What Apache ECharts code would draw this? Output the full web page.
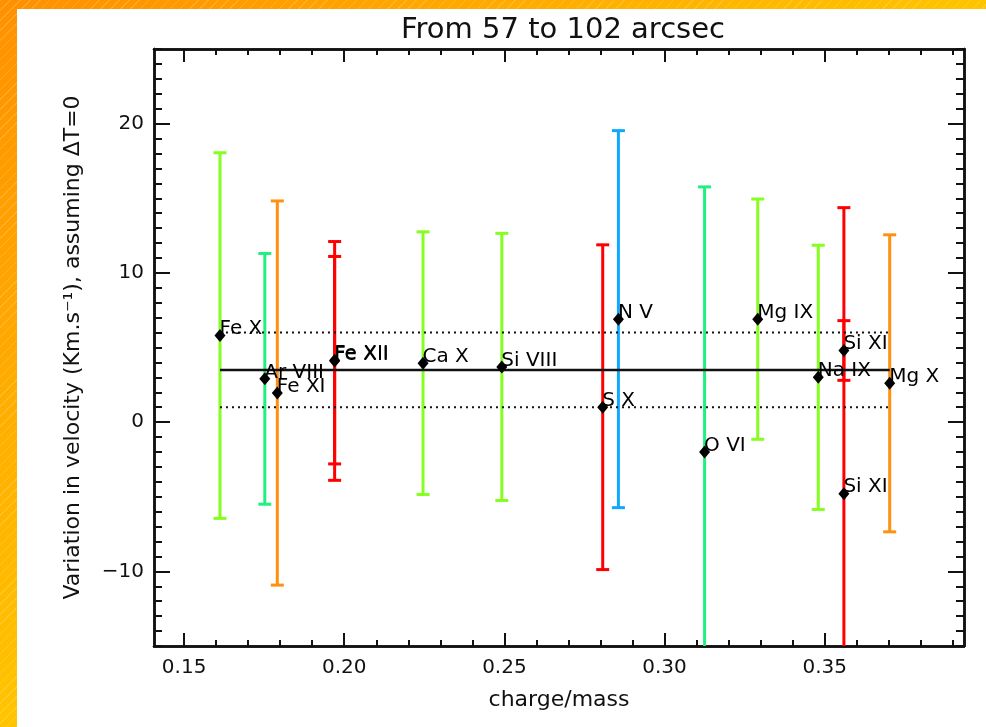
<!DOCTYPE html>
<html>
<head>
<meta charset="utf-8">
<script src="https://cdn.jsdelivr.net/npm/echarts@6/dist/echarts.min.js"></script>
<style>
    html, body {
        margin: 0;
        padding: 0;
        width: 986px;
        height: 727px;
        overflow: hidden;
    }
    body {
        background:
            repeating-linear-gradient(135deg, rgba(255,255,255,0.16) 0 1px, rgba(255,255,255,0) 1px 7px),
            linear-gradient(to bottom right, #ff9000 0%, #ffc400 50%, #ffe000 100%);
    }
    #panel {
        position: absolute;
        left: 17px;
        top: 9px;
        right: 0;
        bottom: 0;
        background: #fff;
    }
    #main {
        position: absolute;
        left: 0;
        top: 0;
        width: 986px;
        height: 727px;
    }
</style>
</head>
<body>
<div id="panel"></div>
<div id="main"></div>
<script>
// ions and their charge/mass ratio
var ionNames = ['Fe X', 'Ar VIII', 'Fe XI', 'Fe XII', 'Fe XII', 'Ca X', 'Si VIII', 'S X', 'N V', 'O VI', 'Mg IX', 'Na IX', 'Si XI', 'Si XI', 'Mg X'];
var ionX = [0.1612, 0.1752, 0.1791, 0.1970, 0.1970, 0.2246, 0.2492, 0.2807, 0.2856, 0.3125, 0.3291, 0.3480, 0.3560, 0.3560, 0.3703];
// velocity variation and its error (km/s)
var ionV = [5.8, 2.9, 1.95, 4.1, 4.15, 3.95, 3.7, 1.0, 6.9, -2.0, 6.9, 3.0, 4.8, -4.8, 2.6];
var ionErr = [12.25, 8.4, 12.87, 8.0, 6.95, 8.8, 8.95, 10.88, 12.63, 17.76, 8.05, 8.85, 2.0, 19.17, 9.95];
var ionColors = ['#84ff20', '#20f080', '#ff9010', '#ff0000', '#ff0000', '#84ff20', '#84ff20', '#ff0000', '#10a8ff', '#20f080', '#84ff20', '#84ff20', '#ff0000', '#ff0000', '#ff9010'];

// mean and +/- band
var meanV = 3.5;
var bandUpper = 6.0;
var bandLower = 1.0;

// axes
var xMin = 0.1406, xMax = 0.3935;
var yMin = -15, yMax = 25;
var xMajor = [0.15, 0.20, 0.25, 0.30, 0.35];
var xMinor = [0.15, 0.16, 0.17, 0.18, 0.19, 0.20, 0.21, 0.22, 0.23, 0.24, 0.25, 0.26, 0.27, 0.28, 0.29, 0.30, 0.31, 0.32, 0.33, 0.34, 0.35, 0.36, 0.37, 0.38, 0.39];
var yMajor = [-10, 0, 10, 20];

var FONT = '"DejaVu Sans", sans-serif';
var INK = '#111';

var barData = ionX.map(function (x, i) { return [x, ionV[i], ionErr[i]]; });
var pointData = ionX.map(function (x, i) { return { name: ionNames[i], value: [x, ionV[i]] }; });
var xFirst = ionX[0], xLast = ionX[ionX.length - 1];

function renderBar(params, api) {
    var x = api.value(0), v = api.value(1), e = api.value(2);
    var top = api.coord([x, v + e]);
    var bot = api.coord([x, v - e]);
    var hw = 6.5;
    var style = { stroke: ionColors[params.dataIndex], lineWidth: 3 };
    return {
        type: 'group',
        children: [
            { type: 'line', shape: { x1: top[0], y1: top[1], x2: bot[0], y2: bot[1] }, style: style },
            { type: 'line', shape: { x1: top[0] - hw, y1: top[1], x2: top[0] + hw, y2: top[1] }, style: style },
            { type: 'line', shape: { x1: bot[0] - hw, y1: bot[1], x2: bot[0] + hw, y2: bot[1] }, style: style }
        ]
    };
}

function xAxisDef(pos, ticks, len, labels) {
    return {
        type: 'value', position: pos, min: xMin, max: xMax, gridIndex: 0,
        axisLine: { show: true, onZero: false, lineStyle: { color: INK, width: 2.5 } },
        axisTick: { show: true, inside: true, length: len, customValues: ticks, lineStyle: { color: INK, width: 2 } },
        axisLabel: labels ? {
            show: true, customValues: xMajor, margin: 12, color: INK, fontFamily: FONT, fontSize: 20,
            formatter: function (v) { return v.toFixed(2); }
        } : { show: false },
        splitLine: { show: false }
    };
}

function yAxisDef(pos, major, len, labels) {
    var a = {
        type: 'value', position: pos, min: yMin, max: yMax, gridIndex: 0,
        axisLine: { show: true, onZero: false, lineStyle: { color: INK, width: 2.5 } },
        axisTick: { show: true, inside: true, length: len, lineStyle: { color: INK, width: 2 } },
        axisLabel: { show: false },
        splitLine: { show: false }
    };
    if (major) {
        a.axisTick.customValues = yMajor;
    } else {
        a.interval = 1;
    }
    if (labels) {
        a.axisLabel = {
            show: true, customValues: yMajor, margin: 10, color: INK, fontFamily: FONT, fontSize: 20,
            formatter: function (v) { return String(v).replace('-', '\u2212'); }
        };
    }
    return a;
}

var xAxes = [
    xAxisDef('bottom', xMajor, 13, true),
    xAxisDef('bottom', xMinor, 6, false),
    xAxisDef('top', xMajor, 13, false),
    xAxisDef('top', xMinor, 6, false)
];
xAxes[0].name = 'charge/mass';
xAxes[0].nameLocation = 'middle';
xAxes[0].nameGap = 43;
xAxes[0].nameTextStyle = { color: INK, fontFamily: FONT, fontSize: 22 };

var yAxes = [
    yAxisDef('left', true, 16, true),
    yAxisDef('left', false, 8, false),
    yAxisDef('right', true, 16, false),
    yAxisDef('right', false, 8, false)
];
yAxes[0].name = 'Variation in velocity (Km.s\u207B\u00B9), assuming \u0394T=0';
yAxes[0].nameLocation = 'middle';
yAxes[0].nameGap = 70;
yAxes[0].nameTextStyle = { color: INK, fontFamily: FONT, fontSize: 22 };

var chart = echarts.init(document.getElementById('main'), null, { renderer: 'canvas' });
chart.setOption({
    animation: false,
    backgroundColor: 'transparent',
    title: {
        text: 'From 57 to 102 arcsec',
        left: 558, top: 11, textAlign: 'center',
        textStyle: { color: INK, fontFamily: FONT, fontSize: 29, fontWeight: 'normal' }
    },
    grid: { left: 154, top: 49, width: 810, height: 597, containLabel: false },
    xAxis: xAxes,
    yAxis: yAxes,
    series: [
        {
            type: 'custom', name: 'errors', renderItem: renderBar, data: barData, clip: true,
            encode: { x: 0, y: 1 }, z: 2
        },
        {
            type: 'line', name: 'mean', data: [[xFirst, meanV], [xLast, meanV]], symbol: 'none',
            lineStyle: { color: INK, width: 2.5 }, z: 3
        },
        {
            type: 'line', name: 'upper', data: [[xFirst, bandUpper], [xLast, bandUpper]], symbol: 'none',
            lineStyle: { color: INK, width: 2, type: [2, 4] }, z: 3
        },
        {
            type: 'line', name: 'lower', data: [[xFirst, bandLower], [xLast, bandLower]], symbol: 'none',
            lineStyle: { color: INK, width: 2, type: [2, 4] }, z: 3
        },
        {
            type: 'scatter', name: 'ions', data: pointData, symbol: 'diamond', symbolSize: [11, 13],
            itemStyle: { color: '#000', opacity: 1 }, z: 4,
            label: {
                show: true, formatter: '{b}', position: [5, 10], align: 'left', verticalAlign: 'bottom',
                color: '#000', opacity: 1, fontFamily: FONT, fontSize: 20
            }
        }
    ]
});
</script>
</body>
</html>
